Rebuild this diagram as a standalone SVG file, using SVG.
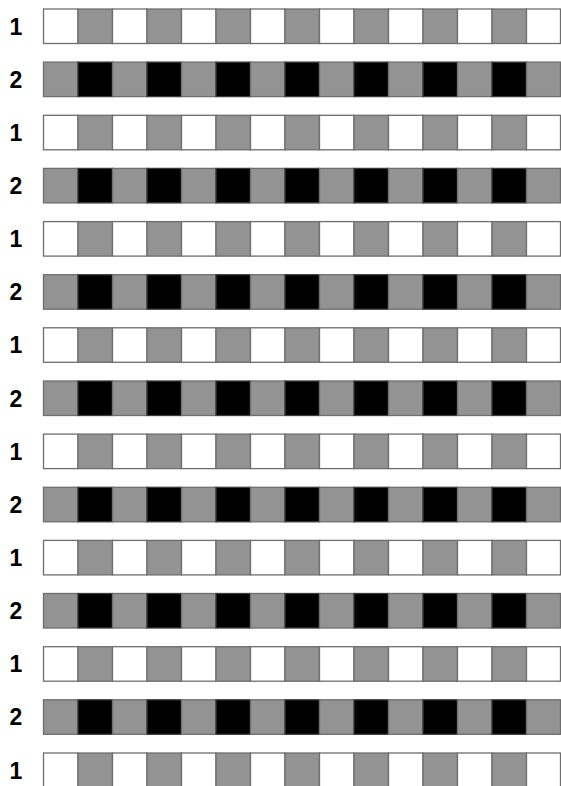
<svg xmlns="http://www.w3.org/2000/svg" width="561" height="786" viewBox="0 0 561 786">
<style>
.w{fill:#ffffff;stroke:#6e6e6e;stroke-width:1.3}
.g{fill:#939393;stroke:#6e6e6e;stroke-width:1.3}
.b{fill:#000000;stroke:#3a3a3a;stroke-width:1.3}
.lbl{font-family:"Liberation Sans","DejaVu Sans",sans-serif;font-weight:bold;font-size:23px;fill:#000;text-anchor:middle}
</style>
<defs>
<g id="row1">
<rect class="w" x="43.5" y="0" width="34.5" height="34.5"/>
<rect class="g" x="78" y="0" width="34.5" height="34.5"/>
<rect class="w" x="112.5" y="0" width="34.5" height="34.5"/>
<rect class="g" x="147" y="0" width="34.5" height="34.5"/>
<rect class="w" x="181.5" y="0" width="34.5" height="34.5"/>
<rect class="g" x="216" y="0" width="34.5" height="34.5"/>
<rect class="w" x="250.5" y="0" width="34.5" height="34.5"/>
<rect class="g" x="285" y="0" width="34.5" height="34.5"/>
<rect class="w" x="319.5" y="0" width="34.5" height="34.5"/>
<rect class="g" x="354" y="0" width="34.5" height="34.5"/>
<rect class="w" x="388.5" y="0" width="34.5" height="34.5"/>
<rect class="g" x="423" y="0" width="34.5" height="34.5"/>
<rect class="w" x="457.5" y="0" width="34.5" height="34.5"/>
<rect class="g" x="492" y="0" width="34.5" height="34.5"/>
<rect class="w" x="526.5" y="0" width="34" height="34.5"/>
<text class="lbl" x="16" y="25.5">1</text>
</g>
<g id="row2">
<rect class="g" x="43.5" y="0" width="34.5" height="34.5"/>
<rect class="b" x="78" y="0" width="34.5" height="34.5"/>
<rect class="g" x="112.5" y="0" width="34.5" height="34.5"/>
<rect class="b" x="147" y="0" width="34.5" height="34.5"/>
<rect class="g" x="181.5" y="0" width="34.5" height="34.5"/>
<rect class="b" x="216" y="0" width="34.5" height="34.5"/>
<rect class="g" x="250.5" y="0" width="34.5" height="34.5"/>
<rect class="b" x="285" y="0" width="34.5" height="34.5"/>
<rect class="g" x="319.5" y="0" width="34.5" height="34.5"/>
<rect class="b" x="354" y="0" width="34.5" height="34.5"/>
<rect class="g" x="388.5" y="0" width="34.5" height="34.5"/>
<rect class="b" x="423" y="0" width="34.5" height="34.5"/>
<rect class="g" x="457.5" y="0" width="34.5" height="34.5"/>
<rect class="b" x="492" y="0" width="34.5" height="34.5"/>
<rect class="g" x="526.5" y="0" width="34" height="34.5"/>
<text class="lbl" x="16" y="25.5">2</text>
</g>
</defs>
<rect x="0" y="0" width="561" height="786" fill="#ffffff"/>
<g id="rows">
<g id="r01"><use href="#row1" y="9"/></g>
<g id="r02"><use href="#row2" y="62.1"/></g>
<g id="r03"><use href="#row1" y="115.3"/></g>
<g id="r04"><use href="#row2" y="168.4"/></g>
<g id="r05"><use href="#row1" y="221.6"/></g>
<g id="r06"><use href="#row2" y="274.7"/></g>
<g id="r07"><use href="#row1" y="327.8"/></g>
<g id="r08"><use href="#row2" y="381"/></g>
<g id="r09"><use href="#row1" y="434.1"/></g>
<g id="r10"><use href="#row2" y="487.3"/></g>
<g id="r11"><use href="#row1" y="540.4"/></g>
<g id="r12"><use href="#row2" y="593.5"/></g>
<g id="r13"><use href="#row1" y="646.7"/></g>
<g id="r14"><use href="#row2" y="699.8"/></g>
<g id="r15"><use href="#row1" y="753"/></g>
</g>
</svg>
